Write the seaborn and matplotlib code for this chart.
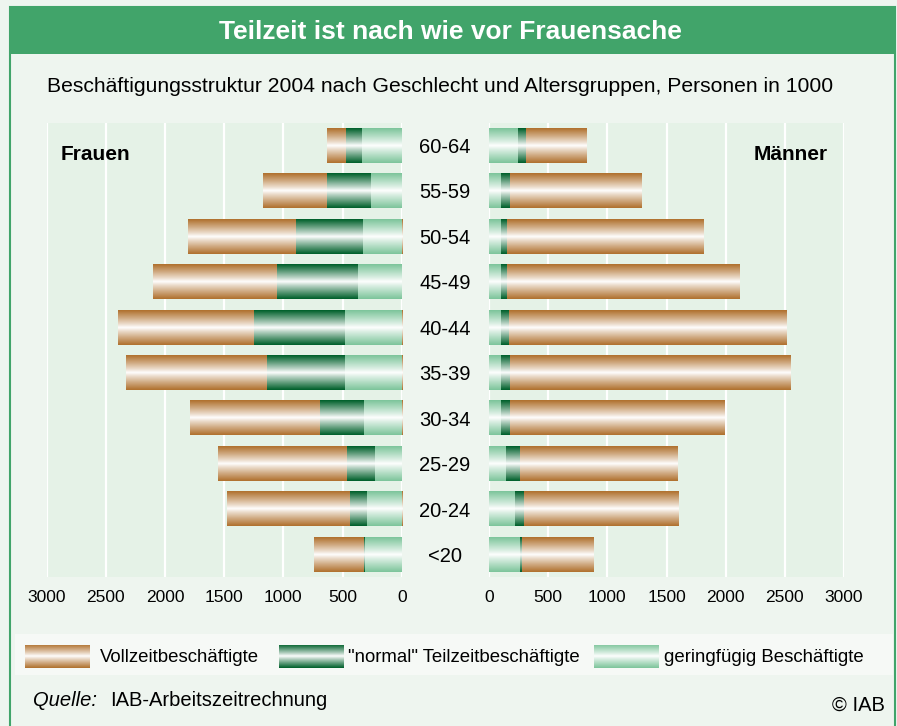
import matplotlib.pyplot as plt
import matplotlib.transforms as mtrans
from matplotlib.patches import Rectangle
import numpy as np
import pandas as pd
import seaborn as sns

# data (persons in 1000), age groups from top to bottom
ages = ['60-64', '55-59', '50-54', '45-49', '40-44', '35-39', '30-34', '25-29', '20-24', '<20']
women_vz = [160, 542, 919, 1048, 1155, 1197, 1104, 1088, 1045, 422]
women_tz = [135, 371, 565, 683, 770, 658, 371, 236, 143, 11]
women_gf = [335, 259, 326, 368, 475, 478, 318, 225, 292, 307]
men_vz = [516, 1116, 1665, 1970, 2350, 2375, 1818, 1336, 1310, 609]
men_tz = [70, 76, 51, 57, 68, 76, 79, 118, 76, 17]
men_gf = [240, 99, 99, 93, 99, 99, 96, 141, 217, 260]
ticks = [0, 500, 1000, 1500, 2000, 2500, 3000]
legend_labels = ['Vollzeitbeschäftigte', '"normal" Teilzeitbeschäftigte', 'geringfügig Beschäftigte']

BROWN = '#B0712E'
DKGREEN = '#00602B'
LTGREEN = '#7DC59B'
FRAME = '#41A46A'
BG = '#EEF5EF'
PANEL = '#E5F2E7'

sns.set_style('white')
plt.rcParams['font.family'] = ['Liberation Sans', 'DejaVu Sans']
plt.rcParams['text.color'] = 'black'
plt.rcParams['xtick.color'] = 'black'

W, H = 897, 726
fig = plt.figure(figsize=(W / 100, H / 100), dpi=100, facecolor=BG)


def fx(px):
    return px / W


def fy(py):
    return 1 - py / H


def grad_img(color, n=64):
    c = np.array(plt.matplotlib.colors.to_rgb(color))
    s = np.abs(np.linspace(-1, 1, n)) ** 0.9
    img = (1 - s)[:, None] * np.ones(3) + s[:, None] * c
    return img[:, None, :]


def make_side(df, left, xlim):
    ax = fig.add_axes([fx(left), fy(577), fx(355.6), 454.5 / H])
    ax.set_facecolor(PANEL)
    cols = [BROWN, DKGREEN, LTGREEN]
    sns.barplot(x=df.vz + df.tz + df.gf, y=df.age, color=BROWN, orient='h', width=0.77, ax=ax)
    sns.barplot(x=df.tz + df.gf, y=df.age, color=DKGREEN, orient='h', width=0.77, ax=ax)
    sns.barplot(x=df.gf, y=df.age, color=LTGREEN, orient='h', width=0.77, ax=ax)
    for i, p in enumerate(list(ax.patches)):
        layer = i // len(ages)
        x0, y0, w, h = p.get_x(), p.get_y(), p.get_width(), p.get_height()
        ax.imshow(grad_img(cols[layer]), extent=[x0, x0 + w, y0 + h, y0],
                  aspect='auto', interpolation='bilinear', zorder=3 + layer * 0.1)
        p.set_visible(False)
    ax.set_xlim(*xlim)
    ax.set_ylim(9.5, -0.5)
    ax.set_xticks(ticks)
    ax.set_xticklabels([str(t) for t in ticks], fontsize=12.5)
    ax.tick_params(axis='x', length=0, pad=9)
    ax.set_yticks([])
    ax.set_xlabel('')
    ax.set_ylabel('')
    ax.grid(axis='x', color='white', lw=1.6, zorder=1)
    ax.set_axisbelow(True)
    for s in ax.spines.values():
        s.set_visible(False)
    return ax


women = pd.DataFrame({'age': ages, 'vz': women_vz, 'tz': women_tz, 'gf': women_gf})
men = pd.DataFrame({'age': ages, 'vz': men_vz, 'tz': men_tz, 'gf': men_gf})

axl = make_side(women, 46.7, (3000, -5))
axr = make_side(men, 488.5, (-5, 3000))

trans = mtrans.blended_transform_factory(fig.transFigure, axl.transData)
for i, a in enumerate(ages):
    axl.text(fx(445), i + 0.05, a, transform=trans, ha='center', va='center', fontsize=14.5, clip_on=False)

axl.text(0.04, 0.93, 'Frauen', transform=axl.transAxes, fontsize=15, fontweight='bold', va='center')
axr.text(0.955, 0.93, 'Männer', transform=axr.transAxes, fontsize=15, fontweight='bold', va='center', ha='right')

# frame and title bar
fig.patches.append(Rectangle((fx(10), fy(740)), fx(885), 733 / H, transform=fig.transFigure,
                             facecolor='none', edgecolor=FRAME, lw=1.5, zorder=0))
fig.patches.append(Rectangle((fx(10), fy(54)), fx(885), 47 / H, transform=fig.transFigure,
                             facecolor=FRAME, edgecolor='none', zorder=0))
fig.text(fx(450), fy(32), 'Teilzeit ist nach wie vor Frauensache', color='white',
         fontsize=19, fontweight='bold', ha='center', va='center')
fig.text(fx(440), fy(86), 'Beschäftigungsstruktur 2004 nach Geschlecht und Altersgruppen, Personen in 1000',
         fontsize=15.2, ha='center', va='center')

# legend band
fig.patches.append(Rectangle((fx(15), fy(675)), fx(878), 41 / H, transform=fig.transFigure,
                             facecolor='#F6F9F6', edgecolor='none', zorder=0))
sw_x = [25, 279, 594]
tx_x = [100, 348, 664]
for col, lab, sx, tx in zip([BROWN, DKGREEN, LTGREEN], legend_labels, sw_x, tx_x):
    sax = fig.add_axes([fx(sx), fy(668), fx(65), 23 / H], zorder=5)
    sax.imshow(grad_img(col), aspect='auto', interpolation='bilinear')
    sax.axis('off')
    fig.text(fx(tx), fy(657), lab, fontsize=13.4, va='center')

fig.text(fx(33), fy(701), 'Quelle:', fontsize=14.5, style='italic', va='center')
fig.text(fx(110), fy(701), 'IAB-Arbeitszeitrechnung', fontsize=14.5, va='center')
fig.text(fx(885), fy(705), '© IAB', fontsize=14.5, va='center', ha='right')

fig.savefig('out.png', dpi=100, facecolor=BG)
